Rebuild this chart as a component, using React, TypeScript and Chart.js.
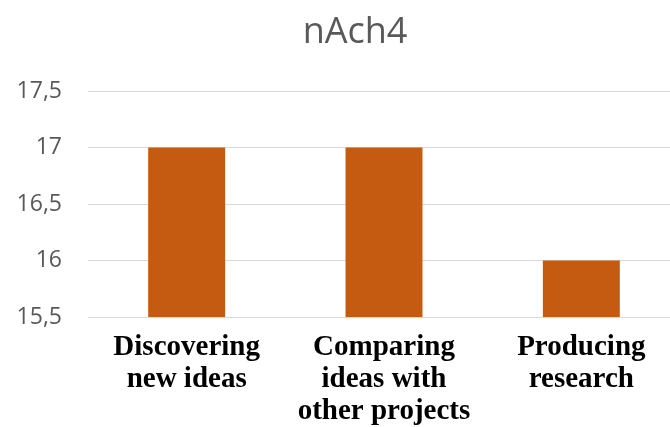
import React, { useEffect, useRef } from "react";
import { Chart, registerables } from "chart.js";

Chart.register(...registerables);

const chartTitle = "nAch4";
const categories: string[][] = [
  ["Discovering", "new ideas"],
  ["Comparing", "ideas with", "other projects"],
  ["Producing", "research"],
];
const values: number[] = [17, 17, 16];
const yMin = 15.5;
const yMax = 17.5;
const yStep = 0.5;

const titlePlugin = {
  id: "customTitle",
  afterDraw(chart: any) {
    const ctx = chart.ctx;
    ctx.save();
    ctx.font = "normal 36px 'Open Sans', sans-serif";
    ctx.fillStyle = "#595959";
    ctx.textAlign = "center";
    ctx.textBaseline = "alphabetic";
    ctx.fillText(chartTitle, 355, 43);
    ctx.restore();
  },
};

export default function App() {
  const ref = useRef<HTMLCanvasElement | null>(null);

  useEffect(() => {
    if (!ref.current) return;
    const chart = new Chart(ref.current, {
      type: "bar",
      data: {
        labels: categories,
        datasets: [
          {
            data: values,
            backgroundColor: "#C55A11",
            borderWidth: 0,
            barPercentage: 0.39,
            categoryPercentage: 1,
          },
        ],
      },
      plugins: [titlePlugin],
      options: {
        responsive: false,
        animation: false,
        devicePixelRatio: 1,
        layout: { padding: { left: 0, top: 91, right: 0, bottom: 0 } },
        plugins: {
          legend: { display: false },
          tooltip: { enabled: false },
          title: { display: false },
        },
        scales: {
          x: {
            grid: { display: false, drawTicks: false },
            border: { display: true, color: "#D9D9D9", width: 1 },
            ticks: {
              color: "#000000",
              padding: 15,
              maxRotation: 0,
              autoSkip: false,
              font: { family: "'Liberation Serif', 'Times New Roman', serif", size: 29, weight: "bold", lineHeight: 1.1 },
            },
            afterFit: (scale: any) => {
              scale.height = 110;
            },
          },
          y: {
            min: yMin,
            max: yMax,
            grid: { color: "#D9D9D9", lineWidth: 1, drawTicks: false },
            border: { display: false },
            ticks: {
              stepSize: yStep,
              color: "#595959",
              padding: 26,
              font: { family: "'Open Sans', sans-serif", size: 23 },
              callback: (v: any) => String(v).replace(".", ","),
            },
            afterFit: (scale: any) => {
              scale.width = 88;
            },
          },
        },
      },
    });
    return () => chart.destroy();
  }, []);

  return (
    <div
      style={{
        position: "fixed",
        left: 0,
        top: 0,
        width: 670,
        height: 427,
        overflow: "hidden",
        background: "#ffffff",
      }}
    >
      <canvas ref={ref} width={680} height={427} style={{ display: "block" }} />
    </div>
  );
}
